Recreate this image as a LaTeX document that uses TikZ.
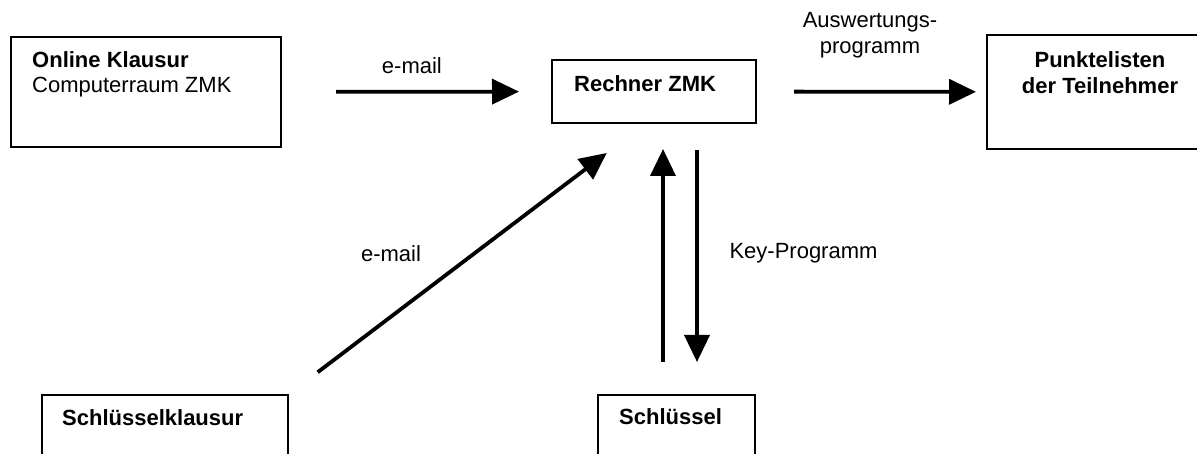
\documentclass[tikz,border=0pt]{standalone}
\usepackage{fontspec}
\setmainfont{Liberation Sans}
\usetikzlibrary{arrows.meta}

\begin{document}
\begin{tikzpicture}[x=1pt, y=1pt,
		box/.style={draw, line width=2pt, inner sep=0pt},
		txt/.style={inner sep=0pt, font=\fontsize{22}{26}\selectfont},
		btxt/.style={txt, font=\fontsize{22}{26}\selectfont\bfseries},
		flow/.style={line width=3.8pt, -{Triangle[length=27pt, width=25pt]}}]
		%%%%% START %%%%%
		\useasboundingbox (0, 0) rectangle (1197, 454);
		
		\node[box, minimum width=270, minimum height=110] (online) at (146, 362) {};
		\node[box, minimum width=204, minimum height=63] (rechner) at (654, 362.5) {};
		\node[box, minimum width=280, minimum height=114] (punkte) at (1127, 362) {};
		\node[box, minimum width=246, minimum height=85] (skl) at (165, 16.5) {};
		\node[box, minimum width=157, minimum height=85] (schl) at (676.5, 16.5) {};
		
		\node[btxt, anchor=base west] (onlineT) at ([shift={(22,-32)}]online.north west) {Online Klausur};
		\node[txt, anchor=base west] (onlineS) at ([shift={(22,-57)}]online.north west) {Computerraum ZMK};
		\node[btxt, anchor=base west] (rechnerT) at ([shift={(23,-33)}]rechner.north west) {Rechner ZMK};
		\node[btxt, align=center, anchor=north] (punkteT) at (1100, 402.7) {Punktelisten\\der Teilnehmer};
		\node[btxt, anchor=base west] (sklT) at ([shift={(21,-32)}]skl.north west) {Schlüsselklausur};
		\node[btxt, anchor=base west] (schlT) at ([shift={(22,-31)}]schl.north west) {Schlüssel};
		
		% e-mail und Auswertung
		\draw[flow, shorten <=54pt, shorten >=32pt] (online) -- (rechner)
			node[txt, pos=0.483, above=16pt] (mail1) {e-mail};
		\draw[flow, shorten <=37pt, shorten >=10pt] (rechner) -- (punkte);
		\node[txt, align=center, anchor=north] (ausw) at (870, 441.7) {Auswertungs-\\programm};
		
		% Schluesselklausur an Rechner
		\draw[flow, shorten <=36pt, shorten >=48pt] (skl.north east) -- ([xshift=-9pt]rechner.south);
		\node[txt, anchor=base] (mail2) at (391, 192) {e-mail};
		
		% Key-Programm hin und zurueck
		\coordinate (upfoot) at ([xshift=-13.5pt]schl.north);
		\coordinate (downfoot) at ([xshift=20.5pt]schl.north);
		\draw[flow, shorten <=32pt, shorten >=25pt] (upfoot) -- (upfoot |- rechner.south);
		\draw[flow, shorten <=26pt, shorten >=32pt] (downfoot |- rechner.south) -- (downfoot);
		\node[txt, anchor=base] (key) at (803.5, 195) {Key-Programm};
		
		%%%%% END %%%%%
\end{tikzpicture}
\end{document}
